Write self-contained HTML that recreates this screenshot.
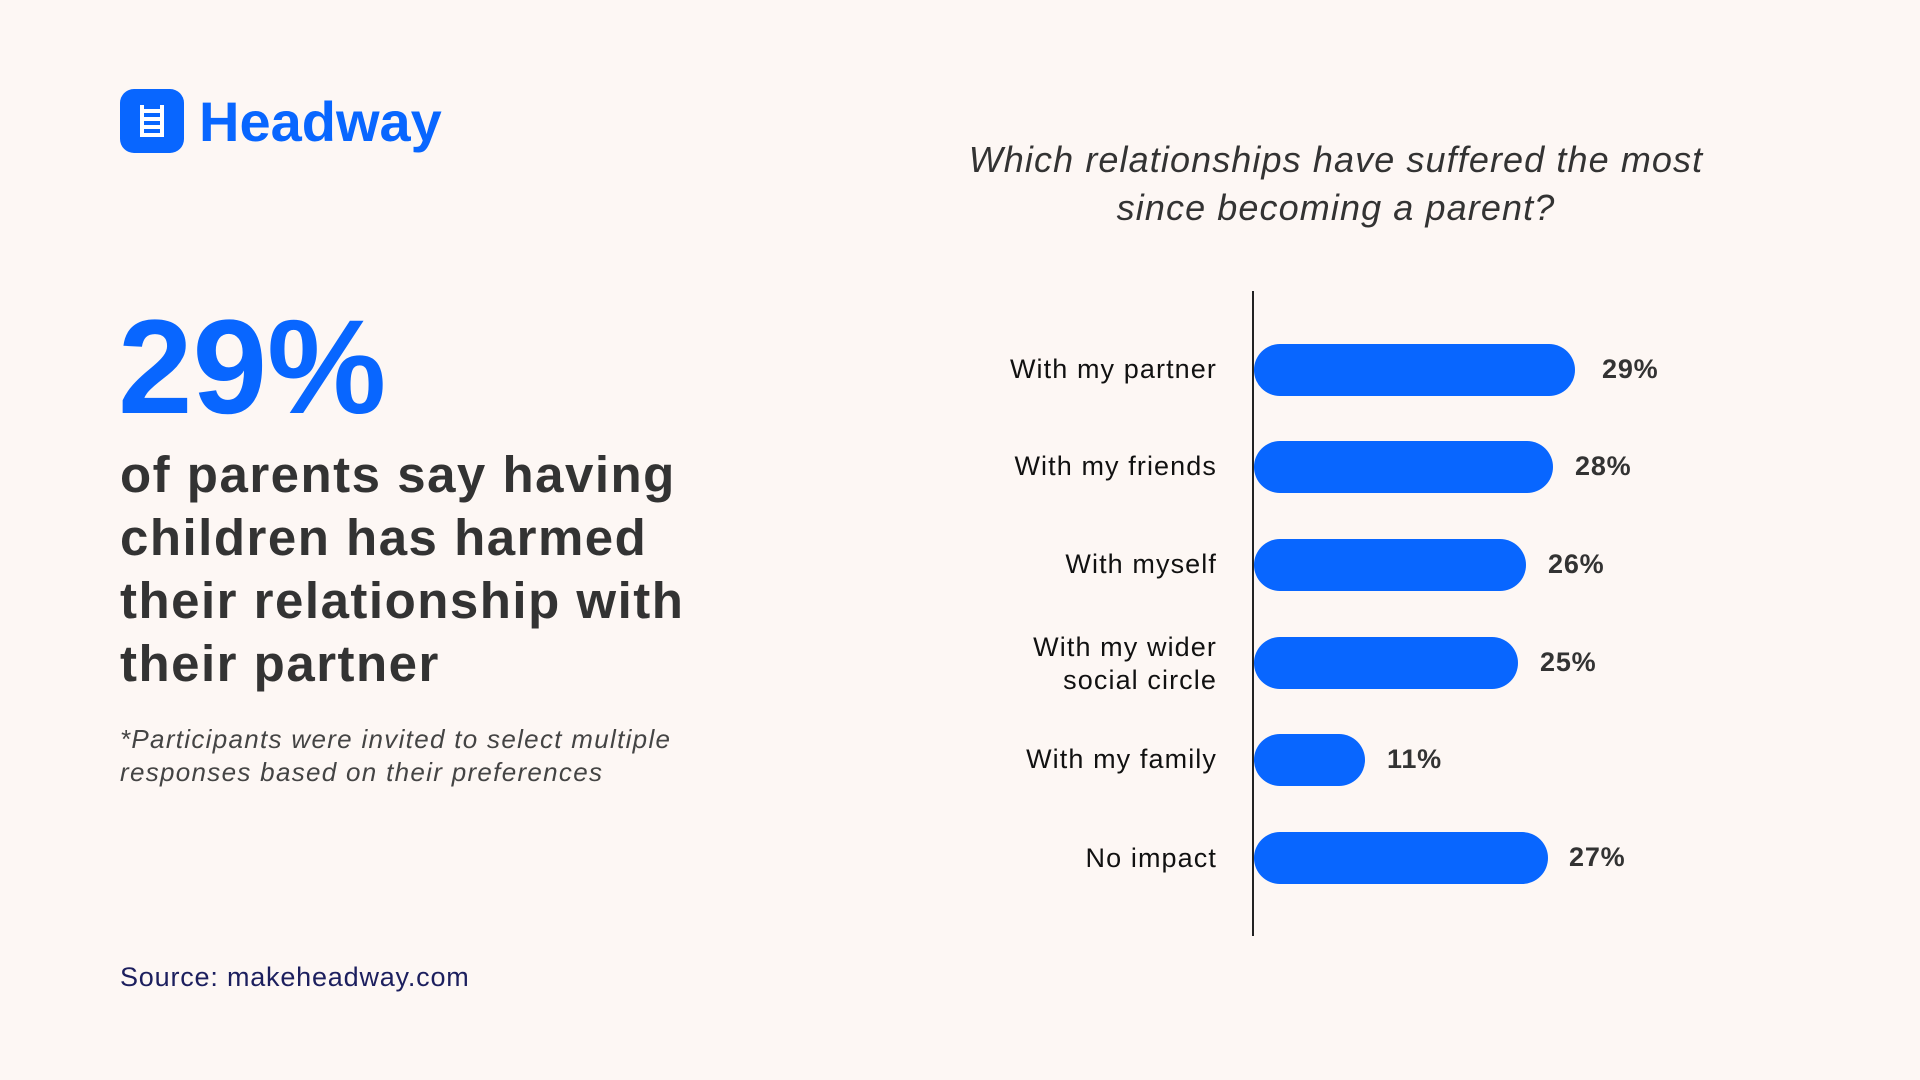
<!DOCTYPE html>
<html><head><meta charset="utf-8"><style>
body{margin:0;width:1920px;height:1080px;background:#fdf7f4;position:relative;overflow:hidden;font-family:"Liberation Sans",sans-serif;color:#333}
.a{position:absolute;white-space:nowrap}
.bar{position:absolute;left:1254px;height:52px;background:#0866ff;border-radius:26px}
.cat{position:absolute;right:703px;font-size:27px;letter-spacing:1.1px;color:#111;text-align:right;line-height:33px}
.val{position:absolute;font-size:27px;letter-spacing:0.8px;font-weight:bold;color:#333}
</style></head><body>
<div class="a" style="left:120px;top:89px;width:64px;height:64px;background:#0866ff;border-radius:14px">
<svg width="64" height="64" viewBox="0 0 64 64"><g stroke="#fff" stroke-width="4" fill="none"><line x1="22" y1="16" x2="22" y2="48"/><line x1="42" y1="16" x2="42" y2="48"/><line x1="22" y1="22" x2="42" y2="22"/><line x1="22" y1="30" x2="42" y2="30"/><line x1="22" y1="38" x2="42" y2="38"/><line x1="22" y1="46" x2="42" y2="46"/></g></svg></div>
<div class="a" style="left:199px;top:90px;font-size:56px;font-weight:bold;color:#0866ff;line-height:64px">Headway</div>
<div class="a" style="left:118px;top:298px;font-size:134px;font-weight:bold;color:#0866ff;line-height:140px">29%</div>
<div class="a" style="left:120px;top:443px;font-size:51px;font-weight:bold;line-height:63px;letter-spacing:1.5px;color:#333">of parents say having<br>children has harmed<br>their relationship with<br>their partner</div>
<div class="a" style="left:120px;top:723px;font-size:26px;font-style:italic;line-height:33px;letter-spacing:1.3px;color:#444">*Participants were invited to select multiple<br>responses based on their preferences</div>
<div class="a" style="left:120px;top:962px;font-size:27px;letter-spacing:0.8px;color:#1c1f5e">Source: makeheadway.com</div>
<div class="a" style="left:886px;top:136px;width:900px;text-align:center;font-size:36px;font-style:italic;line-height:48px;letter-spacing:1.1px;color:#333">Which relationships have suffered the most<br>since becoming a parent?</div>
<div class="a" style="left:1252px;top:291px;width:2px;height:645px;background:#222"></div>
<div class="bar" style="top:344px;width:321px"></div><div class="val" style="left:1602px;top:354px">29%</div><div class="cat" style="top:353px">With my partner</div>
<div class="bar" style="top:441px;width:299px"></div><div class="val" style="left:1575px;top:451px">28%</div><div class="cat" style="top:450px">With my friends</div>
<div class="bar" style="top:539px;width:272px"></div><div class="val" style="left:1548px;top:549px">26%</div><div class="cat" style="top:548px">With myself</div>
<div class="bar" style="top:637px;width:264px"></div><div class="val" style="left:1540px;top:647px">25%</div><div class="cat" style="top:631px">With my wider<br>social circle</div>
<div class="bar" style="top:734px;width:111px"></div><div class="val" style="left:1387px;top:744px">11%</div><div class="cat" style="top:743px">With my family</div>
<div class="bar" style="top:832px;width:294px"></div><div class="val" style="left:1569px;top:842px">27%</div><div class="cat" style="top:842px">No impact</div>
</body></html>
